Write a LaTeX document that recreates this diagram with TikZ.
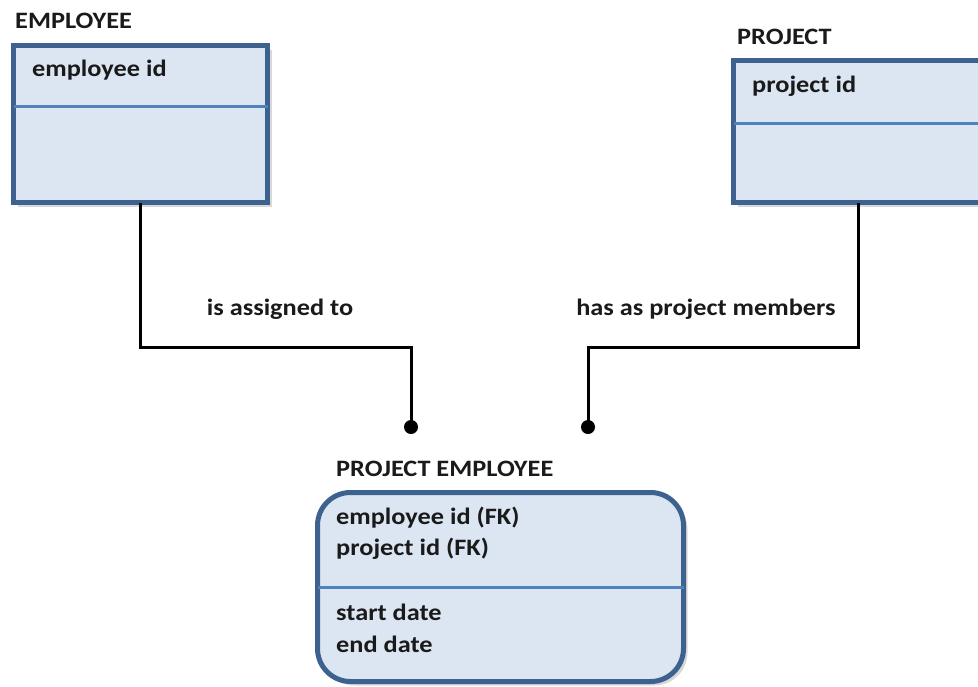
\documentclass[tikz,border=0pt]{standalone}
\usepackage{fontspec}
\setmainfont{Carlito}[FakeStretch=1.12]
\usetikzlibrary{shadows}
\definecolor{entline}{HTML}{3D6290}
\definecolor{entfill}{HTML}{DCE6F2}
\definecolor{divline}{HTML}{4F81BD}
\definecolor{textcol}{HTML}{1A1A1A}
\tikzset{
  entity/.style={shape=rectangle, draw=entline, fill=entfill, line width=5pt, outer sep=0pt, anchor=north west,
    drop shadow={shadow xshift=4pt, shadow yshift=-4pt, fill=black!30}},
  title/.style={anchor=west, inner sep=0pt, text=textcol, font=\fontsize{23.5}{28}\selectfont\bfseries},
  attr/.style={title},
  divider/.style={draw=divline, line width=3pt},
  link/.style={line width=3pt},
  ends/.style={fill=black, circle, inner sep=0pt, minimum size=14pt}
}
\begin{document}
\begin{tikzpicture}[x=1pt, y=-1pt]
  \useasboundingbox (0,0) rectangle (978,686);
  \node[entity, minimum width=254pt, minimum height=157pt] (emp) at (13.5,45.5) {};
  \node[entity, minimum width=250pt, minimum height=142pt] (proj) at (733.5,60.5) {};
  \node[entity, rounded corners=33pt, minimum width=366pt, minimum height=189pt] (pe) at (317.5,492.5) {};
  \draw[divider] (emp.west |- 0,106) -- (emp.east |- 0,106);
  \draw[divider] (proj.west |- 0,123) -- (proj.east |- 0,123);
  \draw[divider] (pe.west |- 0,587) -- (pe.east |- 0,587);

  \node[title] (empname) at (15,21) {EMPLOYEE};
  \node[title] (projname) at (737,37) {PROJECT};
  \node[title] (pename) at (336,469) {PROJECT EMPLOYEE};

  \node[attr] (empid) at (32,70) {employee id};
  \node[attr] (projid) at (752,86) {project id};
  \node[attr] (fkemp) at (336,518) {employee id (FK)};
  \node[attr] (fkproj) at (336,549) {project id (FK)};
  \node[attr] (start) at (336,612) {start date};
  \node[attr] (end) at (336,644) {end date};

  \coordinate (ea) at (411,427);
  \coordinate (pa) at (588,427);
  \draw[link] (emp.south) -- ++(0,144.5) -| (ea);
  \draw[link] (proj.south) -- ++(0,144.5) -| (pa);
  \node[ends] at (ea) {};
  \node[ends] at (pa) {};
  \node[title, anchor=center] (assigned) at (280,309) {is assigned to};
  \node[title, anchor=center] (members) at (706,309) {has as project members};
\end{tikzpicture}
\end{document}
